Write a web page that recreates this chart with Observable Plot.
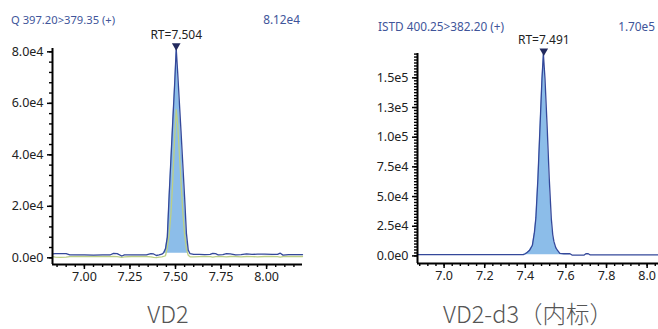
<!DOCTYPE html>
<html>
<head>
<meta charset="utf-8">
<script src="https://cdn.jsdelivr.net/npm/d3@7"></script>
<script src="https://cdn.jsdelivr.net/npm/@observablehq/plot@0.6"></script>
<style>
  html, body { margin: 0; padding: 0; background: #fff; }
  #wrap { position: relative; width: 658px; height: 329px; overflow: hidden; font-family: "Noto Sans", sans-serif; }
  .panel { position: absolute; top: 0; }
  .hdr { position: absolute; font-size: 11px; color: #40559a; white-space: nowrap; line-height: 1; }
  .name { position: absolute; font-family: "Noto Sans CJK SC", "Noto Sans", sans-serif; font-size: 23.5px; font-weight: 300; color: #555; white-space: nowrap; transform: translateX(-50%); line-height: 1; }
</style>
</head>
<body>
<div id="wrap"></div>
<script>
// ---------- Data: VD2 (left) ----------
const vd2Title = "Q 397.20>379.35 (+)";
const vd2Max = "8.12e4";
const vd2Name = "VD2";
const vd2Time  = [6.825,6.84,6.87,6.90,6.92,6.96,7.00,7.05,7.10,7.14,7.16,7.18,7.205,7.22,7.26,7.30,7.34,7.365,7.38,7.395,7.41,7.425,7.435,7.445,7.455,7.465,7.475,7.485,7.495,7.504,7.512,7.52,7.53,7.54,7.55,7.56,7.57,7.58,7.60,7.63,7.66,7.69,7.705,7.72,7.735,7.76,7.78,7.80,7.83,7.86,7.89,7.92,7.95,7.99,8.03,8.06,8.075,8.09,8.12,8.16,8.197];
const vd2Quant = [1500,1650,1650,1600,1150,1100,1100,1050,1100,1100,1700,1650,700,1100,1100,1100,1100,1600,1500,900,1100,1400,2000,3500,8000,24000,38500,53000,67000,81200,72000,62000,49500,36500,23500,9500,3000,1600,1300,1300,1250,1300,1700,1650,1100,1200,1600,1550,1150,1200,1500,1300,1400,1450,1350,1300,1800,1050,1200,1200,1200];
const vd2Qual  = [500,300,200,250,450,500,500,500,500,500,550,450,200,400,500,500,500,350,150,100,300,400,550,800,4000,9000,17000,30000,46000,57500,52000,42000,30000,18000,9000,3500,1000,400,400,450,500,450,300,450,500,450,350,500,500,400,500,450,400,500,500,450,300,500,500,500,500];
const vd2Peak = {t: 7.504, v: 81200, label: "RT=7.504"};
const vd2FillBase = 1800, vd2FillFrom = 7.43, vd2FillTo = 7.575;
const vd2YTicks = [0, 20000, 40000, 60000, 80000];
const vd2XTicks = [7.00, 7.25, 7.50, 7.75, 8.00];

// ---------- Data: VD2-d3 internal standard (right) ----------
const isTitle = "ISTD 400.25>382.20 (+)";
const isMax = "1.70e5";
const isName = "VD2-d3（内标）";
const isTime = [6.869,6.95,7.05,7.15,7.25,7.35,7.39,7.40,7.41,7.42,7.435,7.445,7.452,7.462,7.472,7.482,7.489,7.497,7.508,7.518,7.528,7.535,7.541,7.55,7.557,7.57,7.59,7.62,7.63,7.66,7.69,7.70,7.71,7.72,7.80,7.90,8.00,8.056];
const isVal  = [1000,1000,1000,1000,1000,1000,1100,1800,3000,4500,9000,20000,32000,65000,107000,149000,170000,149000,107000,65000,31500,18000,12000,7000,5000,2200,1800,1800,700,600,700,2000,1800,800,900,900,900,900];
const isPeak = {t: 7.491, v: 170000, label: "RT=7.491"};
const isFillBase = 1000, isFillFrom = 7.39, isFillTo = 7.62;
const isYTicks = [0, 25000, 50000, 75000, 100000, 125000, 150000];
const isXTicks = [7.0, 7.2, 7.4, 7.6, 7.8, 8.0];

// ---------- helpers ----------
const expFmt = v => v.toExponential(1).replace("+", "");
const lineBlue = "#34489a", fillBlue = "#8cbde9", lineGreen = "#bccf86";
const baseStyle = {fontFamily: "'Noto Sans', sans-serif", fontSize: "12.5px", color: "#222", background: "transparent", overflow: "visible"};

function panel({width, height, mL, mT, mB, mR, xDom, yDom, series, fill, peak, xTicks, xMinor, xFmt, yTicks, yMinor}) {
  const marks = [
    Plot.areaY(fill.data, {x: "t", y1: fill.base, y2: d => Math.max(d.v, fill.base), fill: fillBlue, curve: "linear"}),
    ...series.map(s => Plot.lineY(s.data, {x: "t", y: "v", stroke: s.color, strokeWidth: 1.3})),
    Plot.axisY(yMinor, {tickSize: 3, tickFormat: () => "", strokeWidth: 1.4, stroke: "#000"}),
    Plot.axisY(yTicks, {tickSize: 5, tickPadding: 4, tickFormat: expFmt, strokeWidth: 1.5, stroke: "#000", fill: "#222"}),
    Plot.axisX(xMinor, {tickSize: 3, tickFormat: () => "", strokeWidth: 1.4, stroke: "#000"}),
    Plot.axisX(xTicks, {tickSize: 5, tickPadding: 3, tickFormat: xFmt, strokeWidth: 1.5, stroke: "#000", fill: "#222"}),
    Plot.ruleX([xDom[0]], {stroke: "#000", strokeWidth: 2}),
    Plot.ruleY([yDom[0]], {stroke: "#000", strokeWidth: 2}),
    Plot.dot([peak], {x: "t", y: "v", symbol: "triangle", rotate: 180, r: 3.2, fill: "#222a5e", stroke: "none", dy: -3}),
    Plot.text([peak], {x: "t", y: "v", text: "label", dy: -14, fontSize: 12, fill: "#222"})
  ];
  return Plot.plot({
    width, height, marginLeft: mL, marginTop: mT, marginBottom: mB, marginRight: mR,
    x: {domain: xDom, label: null},
    y: {domain: yDom, label: null},
    style: baseStyle,
    marks
  });
}

const toRows = (ts, vs) => ts.map((t, i) => ({t, v: vs[i]}));
const vd2BlueRows = toRows(vd2Time, vd2Quant);
const vd2GreenRows = toRows(vd2Time, vd2Qual);
const isRows = toRows(isTime, isVal);

const left = panel({
  width: 330, height: 300, mL: 52, mT: 48, mB: 36, mR: 28,
  xDom: [6.825, 8.197], yDom: [-2600, 81300],
  series: [{data: vd2GreenRows, color: lineGreen}, {data: vd2BlueRows, color: lineBlue}],
  fill: {data: vd2BlueRows.filter(d => d.t >= vd2FillFrom && d.t <= vd2FillTo), base: vd2FillBase},
  peak: vd2Peak,
  xTicks: vd2XTicks, xMinor: d3.range(6.85, 8.2, 0.05), xFmt: d3.format(".2f"),
  yTicks: vd2YTicks, yMinor: d3.range(0, 81300, 4000)
});
const right = panel({
  width: 328, height: 300, mL: 87, mT: 53, mB: 37, mR: 0,
  xDom: [6.869, 8.056], yDom: [-6400, 170500],
  series: [{data: isRows, color: lineBlue}],
  fill: {data: isRows.filter(d => d.t >= isFillFrom && d.t <= isFillTo), base: isFillBase},
  peak: isPeak,
  xTicks: isXTicks, xMinor: d3.range(6.88, 8.06, 0.04), xFmt: d3.format(".1f"),
  yTicks: isYTicks, yMinor: d3.range(0, 170500, 2500)
});

const wrap = document.getElementById("wrap");
function place(el, x, y, cls) { el.classList.add(cls); el.style.left = x + "px"; el.style.top = y + "px"; wrap.appendChild(el); return el; }
place(left, 0, 0, "panel");
place(right, 330, 0, "panel");
function txt(s, x, y, cls, rightAlign, size) {
  const d = document.createElement("div");
  d.textContent = s; d.className = cls;
  if (rightAlign) { d.style.right = (658 - x) + "px"; } else { d.style.left = x + "px"; }
  d.style.top = y + "px";
  if (size) d.style.fontSize = size + "px";
  wrap.appendChild(d);
}
txt(vd2Title, 11, 14, "hdr", false, 11.2);
txt(vd2Max, 300, 14, "hdr", true, 11.8);
txt(isTitle, 378, 20.5, "hdr", false, 11.8);
txt(isMax, 655, 20.5, "hdr", true, 11.8);
txt(vd2Name, 168, 302, "name");
txt(isName, 528, 302, "name");
</script>
</body>
</html>
